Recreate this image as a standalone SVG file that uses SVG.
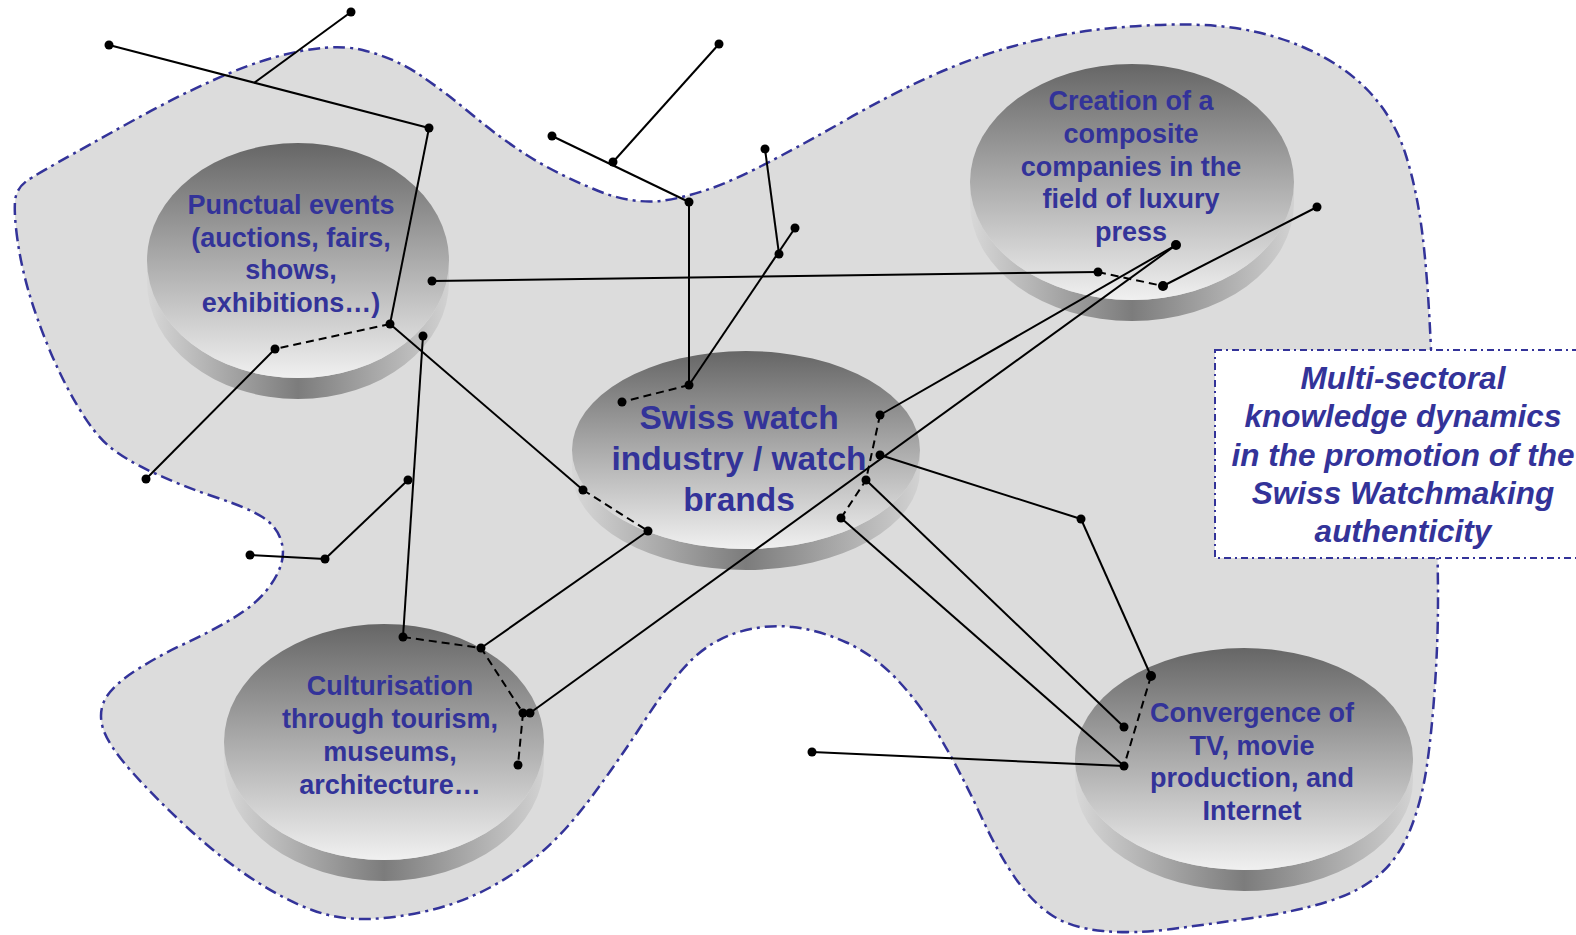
<svg xmlns="http://www.w3.org/2000/svg" width="1576" height="935" viewBox="0 0 1576 935">
<defs>
  <linearGradient id="topG" x1="0" y1="0" x2="0" y2="1">
    <stop offset="0" stop-color="#666666"/>
    <stop offset="0.55" stop-color="#b2b2b2"/>
    <stop offset="1" stop-color="#f0f0f0"/>
  </linearGradient>
  <linearGradient id="sideG" x1="0" y1="0" x2="1" y2="0">
    <stop offset="0" stop-color="#d8d8d8"/>
    <stop offset="0.5" stop-color="#7c7c7c"/>
    <stop offset="1" stop-color="#d2d2d2"/>
  </linearGradient>
</defs>
<style>
  .blob{fill:#dcdcdc;stroke:#333399;stroke-width:2.5;stroke-dasharray:12 5 3 5}
  .box{fill:#ffffff;stroke:#333399;stroke-width:2;stroke-dasharray:7 4 2 4}
  .top{fill:url(#topG)}
  .side{fill:url(#sideG)}
  .lbl{font-family:"Liberation Sans",Arial,sans-serif;font-weight:bold;fill:#333399;text-anchor:middle}
  .s{font-size:27px}
  .c{font-size:33.5px}
  .t{font-size:31.5px;font-style:italic}
  .ln{stroke:#000;stroke-width:2;fill:none}
  .dash{stroke:#000;stroke-width:2;stroke-dasharray:8 5;fill:none}
  .dot{fill:#000}
</style>
<rect x="0" y="0" width="1576" height="935" fill="#ffffff"/>

<g id="region">
  <path class="blob" d="M17.5,240 Q14,215 15,201.5 Q16,188 28,180 Q40,172 130.5,122 Q221,72 275.5,57 Q330,42 362.5,50 Q395,58 420,75 Q445,92 472.5,115 Q500,138 527.5,155.5 Q555,173 592.5,188.5 Q630,205 664.5,200.5 Q699,195 735.5,178.5 Q772,162 848.5,118.5 Q925,75 984.5,55 Q1044,35 1107.5,28.5 Q1171,22 1217.5,26 Q1264,30 1304,47.5 Q1344,65 1369,91.5 Q1394,118 1405.5,154 Q1417,190 1422.5,235 Q1428,280 1431,350 Q1434,420 1436,490 Q1438,560 1438,600 Q1438,640 1435,685 Q1432,730 1427,765 Q1422,800 1410.5,829 Q1399,858 1379,875 Q1359,892 1326.5,902 Q1294,912 1252,918 Q1210,924 1172,929 Q1134,934 1103,931 Q1072,928 1053,916 Q1034,904 1017,880.5 Q1000,857 980.5,815 Q961,773 941,739 Q921,705 897.5,680 Q874,655 846.5,642.5 Q819,630 792.5,627 Q766,624 739,632 Q712,640 691.5,660 Q671,680 645,720 Q619,760 593,795 Q567,830 543,851 Q519,872 490,887.5 Q461,903 429,910.5 Q397,918 368,919 Q339,920 312,910 Q285,900 254,880 Q223,860 190,830 Q157,800 132.5,772.5 Q108,745 103,728.5 Q98,712 105.5,698.5 Q113,685 136.5,670 Q160,655 185,643.5 Q210,632 232.5,618.5 Q255,605 266.5,590.5 Q278,576 281.5,563 Q285,550 280,537.5 Q275,525 261.5,516.5 Q248,508 215,497 Q182,486 154,473 Q126,460 110.5,447.5 Q95,435 78.5,407.5 Q62,380 49,348.5 Q36,317 28.5,291 Q21,265 17.5,240 Z"/>
</g>

<g id="title">
  <rect class="box" x="1215" y="350" width="380" height="208"/>
  <text class="lbl t" x="1403" y="389">Multi-sectoral</text>
  <text class="lbl t" x="1403" y="427">knowledge dynamics</text>
  <text class="lbl t" x="1403" y="465.5">in the promotion of the</text>
  <text class="lbl t" x="1403" y="504">Swiss Watchmaking</text>
  <text class="lbl t" x="1403" y="542">authenticity</text>
</g>

<g id="node-punctual">
  <path class="side" d="M147,260.5 A151,117.5 0 0 0 449,260.5 L449,281.5 A151,117.5 0 0 1 147,281.5 Z"/>
  <ellipse class="top" cx="298" cy="260.5" rx="151" ry="117.5"/>
  <text class="lbl s" x="291" y="214">Punctual events</text>
  <text class="lbl s" x="291" y="247">(auctions, fairs,</text>
  <text class="lbl s" x="291" y="279">shows,</text>
  <text class="lbl s" x="291" y="312">exhibitions…)</text>
</g>

<g id="node-creation">
  <path class="side" d="M970,182 A162,118 0 0 0 1294,182 L1294,203 A162,118 0 0 1 970,203 Z"/>
  <ellipse class="top" cx="1132" cy="182" rx="162" ry="118"/>
  <text class="lbl s" x="1131" y="110">Creation of a</text>
  <text class="lbl s" x="1131" y="143">composite</text>
  <text class="lbl s" x="1131" y="176">companies in the</text>
  <text class="lbl s" x="1131" y="208">field of luxury</text>
  <text class="lbl s" x="1131" y="241">press</text>
</g>

<g id="node-swiss">
  <path class="side" d="M572,450 A174,99 0 0 0 920,450 L920,471 A174,99 0 0 1 572,471 Z"/>
  <ellipse class="top" cx="746" cy="450" rx="174" ry="99"/>
  <text class="lbl c" x="739" y="429">Swiss watch</text>
  <text class="lbl c" x="739" y="470">industry / watch</text>
  <text class="lbl c" x="739" y="511">brands</text>
</g>

<g id="node-culturisation">
  <path class="side" d="M224,742 A160,118 0 0 0 544,742 L544,763 A160,118 0 0 1 224,763 Z"/>
  <ellipse class="top" cx="384" cy="742" rx="160" ry="118"/>
  <text class="lbl s" x="390" y="695">Culturisation</text>
  <text class="lbl s" x="390" y="728">through tourism,</text>
  <text class="lbl s" x="390" y="761">museums,</text>
  <text class="lbl s" x="390" y="794">architecture…</text>
</g>

<g id="node-convergence">
  <path class="side" d="M1075,759 A169,111 0 0 0 1413,759 L1413,780 A169,111 0 0 1 1075,780 Z"/>
  <ellipse class="top" cx="1244" cy="759" rx="169" ry="111"/>
  <text class="lbl s" x="1252" y="722">Convergence of</text>
  <text class="lbl s" x="1252" y="754.5">TV, movie</text>
  <text class="lbl s" x="1252" y="787">production, and</text>
  <text class="lbl s" x="1252" y="819.5">Internet</text>
</g>

<g id="connectors">
  <line class="ln" x1="109" y1="45" x2="429" y2="128"/>
  <line class="ln" x1="351" y1="12" x2="254" y2="83"/>
  <line class="ln" x1="429" y1="128" x2="390" y2="324"/>
  <line class="ln" x1="275" y1="349" x2="146" y2="479"/>
  <line class="ln" x1="390" y1="324" x2="583" y2="490"/>
  <line class="ln" x1="648" y1="531" x2="481" y2="648"/>
  <line class="ln" x1="432" y1="281" x2="1098" y2="272"/>
  <line class="ln" x1="1163" y1="286" x2="1317" y2="207"/>
  <line class="ln" x1="423" y1="336" x2="403" y2="637"/>
  <line class="ln" x1="530" y1="713" x2="1176" y2="245"/>
  <line class="ln" x1="1176" y1="245" x2="880" y2="415"/>
  <line class="ln" x1="880" y1="455" x2="1081" y2="519"/>
  <line class="ln" x1="1081" y1="519" x2="1151" y2="676"/>
  <line class="ln" x1="866" y1="480" x2="1124" y2="727"/>
  <line class="ln" x1="841" y1="518" x2="1124" y2="766"/>
  <line class="ln" x1="812" y1="752" x2="1124" y2="766"/>
  <line class="ln" x1="552" y1="136" x2="689" y2="202"/>
  <line class="ln" x1="613" y1="162" x2="719" y2="44"/>
  <line class="ln" x1="689" y1="202" x2="689" y2="385"/>
  <line class="ln" x1="765" y1="149" x2="779" y2="254"/>
  <line class="ln" x1="795" y1="228" x2="689" y2="385"/>
  <line class="ln" x1="250" y1="555" x2="325" y2="559"/>
  <line class="ln" x1="325" y1="559" x2="408" y2="480"/>

  <line class="dash" x1="390" y1="324" x2="275" y2="349"/>
  <line class="dash" x1="583" y1="490" x2="648" y2="531"/>
  <line class="dash" x1="1098" y1="272" x2="1163" y2="286"/>
  <line class="dash" x1="689" y1="385" x2="622" y2="402"/>
  <polyline class="dash" points="403,637 481,648 523,713 518,765"/>
  <polyline class="dash" points="880,415 866,480 841,518"/>
  <line class="dash" x1="1151" y1="676" x2="1124" y2="766"/>

  <g class="dot">
    <circle cx="109" cy="45" r="4.5"/>
    <circle cx="351" cy="12" r="4.5"/>
    <circle cx="429" cy="128" r="4.5"/>
    <circle cx="390" cy="324" r="4.5"/>
    <circle cx="275" cy="349" r="4.5"/>
    <circle cx="146" cy="479" r="4.5"/>
    <circle cx="432" cy="281" r="4.5"/>
    <circle cx="423" cy="336" r="4.5"/>
    <circle cx="583" cy="490" r="4.5"/>
    <circle cx="648" cy="531" r="4.5"/>
    <circle cx="481" cy="648" r="4.5"/>
    <circle cx="403" cy="637" r="4.5"/>
    <circle cx="523" cy="713" r="4.5"/>
    <circle cx="530" cy="713" r="4.5"/>
    <circle cx="518" cy="765" r="4.5"/>
    <circle cx="250" cy="555" r="4.5"/>
    <circle cx="325" cy="559" r="4.5"/>
    <circle cx="408" cy="480" r="4.5"/>
    <circle cx="552" cy="136" r="4.5"/>
    <circle cx="613" cy="162" r="4.5"/>
    <circle cx="719" cy="44" r="4.5"/>
    <circle cx="689" cy="202" r="4.5"/>
    <circle cx="689" cy="385" r="4.5"/>
    <circle cx="622" cy="402" r="4.5"/>
    <circle cx="765" cy="149" r="4.5"/>
    <circle cx="779" cy="254" r="4.5"/>
    <circle cx="795" cy="228" r="4.5"/>
    <circle cx="1098" cy="272" r="4.5"/>
    <circle cx="1163" cy="286" r="5"/>
    <circle cx="1317" cy="207" r="4.5"/>
    <circle cx="1176" cy="245" r="5"/>
    <circle cx="880" cy="415" r="4.5"/>
    <circle cx="880" cy="455" r="4.5"/>
    <circle cx="866" cy="480" r="4.5"/>
    <circle cx="841" cy="518" r="4.5"/>
    <circle cx="1081" cy="519" r="4.5"/>
    <circle cx="1151" cy="676" r="5"/>
    <circle cx="1124" cy="727" r="4.5"/>
    <circle cx="1124" cy="766" r="4.5"/>
    <circle cx="812" cy="752" r="4.5"/>
  </g>
</g>
</svg>
